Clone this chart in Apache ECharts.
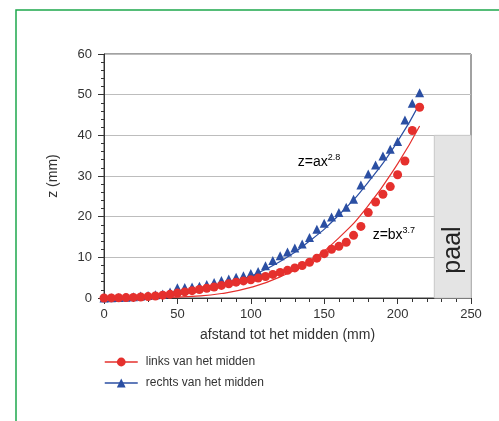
<!DOCTYPE html>
<html><head><meta charset="utf-8">
<script src="https://cdn.jsdelivr.net/npm/echarts@6/dist/echarts.min.js"></script>
<style>html,body{margin:0;padding:0;background:#fff}#c{width:499px;height:421px}</style>
</head><body><div id="c"></div>
<script>
const xPoints = [0,5,10,15,20,25,30,35,40,45,50,55,60,65,70,75,80,85,90,95,100,105,110,115,120,125,130,135,140,145,150,155,160,165,170,175,180,185,190,195,200,205,210,215];
const linksValues = [0,0.02,0.05,0.1,0.15,0.25,0.35,0.5,0.7,0.9,1.2,1.5,1.8,2.1,2.4,2.7,3.1,3.5,3.9,4.2,4.5,4.9,5.3,5.8,6.3,6.8,7.4,8.0,8.8,9.8,10.9,12.0,12.7,13.7,15.4,17.6,21.0,23.6,25.5,27.4,30.3,33.7,41.2,46.9];
const rechtsValues = [0,0.05,0.1,0.2,0.3,0.5,0.6,0.8,1.0,1.5,2.5,2.6,2.7,2.9,3.3,3.8,4.3,4.7,5.1,5.5,6.0,6.5,7.9,9.2,10.4,11.3,12.3,13.3,14.9,16.9,18.4,19.9,21.0,22.3,24.3,27.8,30.5,32.7,34.9,36.6,38.5,43.8,47.9,50.5];
const fitX = [0,20,40,60,80,100,120,140,160,180,200,215];
const fitRechts = [0,0.06,0.4,1.3,2.9,5.4,9.0,14.0,20.4,28.5,38.5,47.8];
const fitLinks = [0,0.01,0.08,0.4,1.1,2.6,5.2,9.1,14.8,22.7,33.0,42.3];
const xTicks = [0,50,100,150,200,250];
const yTicks = [0,10,20,30,40,50,60];
const paal = {x0:225, x1:250, y0:0, y1:40};

const RED = '#e5302d', BLUE = '#2b4fa3';
const zip = (xs, ys) => xs.map((x,i)=>[x, ys[i]]);
const chart = echarts.init(document.getElementById('c'));
chart.setOption({
  animation:false,
  backgroundColor:'#fff',
  textStyle:{fontFamily:'Liberation Sans, Arial, sans-serif'},
  grid:{left:104, right:28, top:54, bottom:123, show:true, borderColor:'#444', borderWidth:1},
  legend:{
    left:104, top:356, padding:0, orient:'vertical', itemGap:9, itemWidth:33, itemHeight:11,
    textStyle:{fontSize:12, color:'#333', padding:[0,0,0,3]},
    data:[
      {name:'links van het midden', lineStyle:{width:1.5, color:RED, opacity:1}},
      {name:'rechts van het midden', lineStyle:{width:1.5, color:BLUE, opacity:1}}
    ]
  },
  xAxis:{
    type:'value', min:xTicks[0], max:xTicks[xTicks.length-1], interval:50,
    name:'afstand tot het midden (mm)', nameLocation:'middle', nameGap:30,
    nameTextStyle:{fontSize:14, color:'#333'},
    axisLine:{lineStyle:{color:'#333', width:1}},
    axisTick:{length:6, lineStyle:{color:'#333'}},
    minorTick:{show:true, splitNumber:5, length:4, lineStyle:{color:'#333'}},
    axisLabel:{fontSize:13, color:'#333', margin:10},
    splitLine:{show:false}
  },
  yAxis:{
    type:'value', min:yTicks[0], max:yTicks[yTicks.length-1], interval:10,
    name:'z (mm)', nameLocation:'middle', nameGap:44, nameRotate:90,
    nameTextStyle:{fontSize:14, color:'#333'},
    axisLine:{lineStyle:{color:'#333', width:1}},
    axisTick:{length:6, lineStyle:{color:'#333'}},
    minorTick:{show:true, splitNumber:5, length:3, lineStyle:{color:'#333'}},
    axisLabel:{fontSize:13, color:'#333', margin:12},
    splitLine:{show:true, lineStyle:{color:'#bdbdbd', width:1}}
  },
  series:[
    {
      type:'line', name:'paalbox', data:[], silent:true,
      markArea:{silent:true, itemStyle:{color:'#e4e4e4', borderColor:'#c8c8c8', borderWidth:1},
        data:[[{coord:[paal.x0, paal.y0]},{coord:[paal.x1, paal.y1]}]]},
      z:1
    },
    {type:'line', name:'fitR', data:zip(fitX, fitRechts), smooth:true, showSymbol:false,
      lineStyle:{color:BLUE, width:1.2}, z:2, silent:true},
    {type:'line', name:'fitL', data:zip(fitX, fitLinks), smooth:true, showSymbol:false,
      lineStyle:{color:RED, width:1.2}, z:2, silent:true},
    {type:'line', name:'rechts van het midden', data:zip(xPoints, rechtsValues),
      symbol:'triangle', symbolSize:9, showAllSymbol:true,
      itemStyle:{color:BLUE}, lineStyle:{width:0, color:BLUE}, z:3},
    {type:'line', name:'links van het midden', data:zip(xPoints, linksValues),
      symbol:'circle', symbolSize:9, showAllSymbol:true,
      itemStyle:{color:RED}, lineStyle:{width:0, color:RED}, z:4}
  ]
});
function place(){
  const p1 = chart.convertToPixel({gridIndex:0},[132,33.5]);
  const p2 = chart.convertToPixel({gridIndex:0},[183,15.5]);
  const p3 = chart.convertToPixel({gridIndex:0},[237.5,11.8]);
  const rich = {b:{fontSize:14, color:'#333'}, s:{fontSize:9, color:'#333', verticalAlign:'top', padding:[0,0,8,0]}};
  chart.setOption({graphic:[
    {type:'rect', shape:{x:16, y:10, width:600, height:600}, style:{fill:'none', stroke:'#1ea84c', lineWidth:1.5}, z:-10},
    {type:'text', x:p1[0], y:p1[1], style:{text:'{b|z=ax}{s|2.8}', rich, textVerticalAlign:'middle'}, z:10},
    {type:'text', x:p2[0], y:p2[1], style:{text:'{b|z=bx}{s|3.7}', rich, textVerticalAlign:'middle'}, z:10},
    {type:'text', x:p3[0], y:p3[1], rotation:Math.PI/2, style:{text:'paal', fontSize:25, fill:'#222', textAlign:'center', textVerticalAlign:'middle'}, z:10}
  ]});
}
place();
</script></body></html>
